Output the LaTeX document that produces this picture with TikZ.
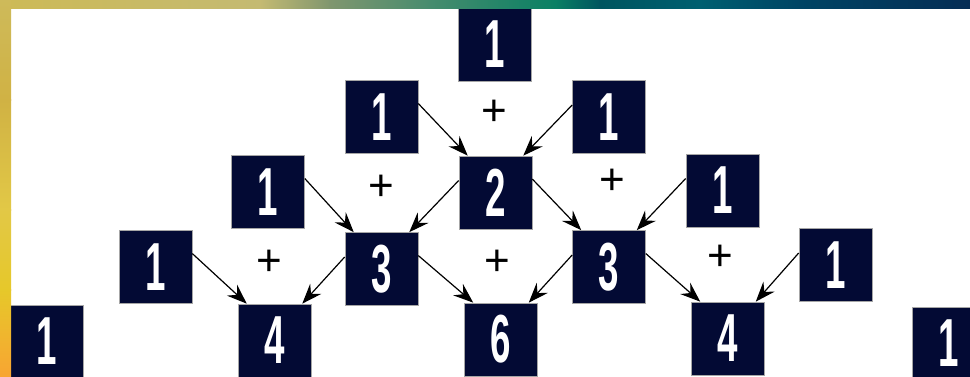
\documentclass[tikz,border=0pt]{standalone}
\usepackage{fontspec}
\setmainfont{Liberation Sans}
\usepackage{graphicx}
\usetikzlibrary{arrows.meta}
\definecolor{navy}{RGB}{3,10,52}
\definecolor{bandA}{RGB}{205,186,86}
\definecolor{bandB}{RGB}{196,186,114}
\definecolor{bandC}{RGB}{128,150,110}
\definecolor{bandD}{RGB}{70,140,110}
\definecolor{bandE}{RGB}{10,128,100}
\definecolor{bandF}{RGB}{0,85,95}
\definecolor{bandG}{RGB}{0,95,112}
\definecolor{bandH}{RGB}{0,68,100}
\definecolor{bandI}{RGB}{5,45,85}
\definecolor{sideA}{RGB}{206,186,90}
\definecolor{sideB}{RGB}{208,178,68}
\definecolor{sideC}{RGB}{226,200,70}
\definecolor{sideD}{RGB}{230,200,42}
\definecolor{sideE}{RGB}{248,165,50}
\newcommand{\digit}[1]{\scalebox{0.54}[1]{\bfseries #1}}

\begin{document}
\begin{tikzpicture}[x=1pt,y=-1pt,>={Stealth[length=20pt,width=15pt,inset=7pt]},
  cell/.style={draw=gray!70,line width=0.7pt,fill=navy,text=white,minimum size=73pt,
    inner sep=0pt,font=\fontsize{68}{68}\selectfont},
  plus/.style={inner sep=0pt,font=\fontsize{44}{44}\selectfont},
  link/.style={->,line width=1.2pt,black}]
  \useasboundingbox (0,0) rectangle (970,376);
  \fill[white] (0,0) rectangle (970,376);
  % row 1
  \node[cell] (a1) at (495,44.5) {\digit{1}};
  % row 2
  \node[cell] (b1) at (381.5,117) {\digit{1}};
  \node[cell] (b2) at (609,117) {\digit{1}};
  % row 3
  \node[cell] (c1) at (268,192) {\digit{1}};
  \node[cell] (c2) at (495.5,192.5) {\digit{2}};
  \node[cell] (c3) at (722.5,190.5) {\digit{1}};
  % row 4
  \node[cell] (d1) at (155.5,267) {\digit{1}};
  \node[cell] (d2) at (381.5,269) {\digit{3}};
  \node[cell] (d3) at (609,267) {\digit{3}};
  \node[cell] (d4) at (835.5,265) {\digit{1}};
  % row 5
  \node[cell] (e1) at (47,341.5) {\digit{1}};
  \node[cell] (e2) at (274.5,340.5) {\digit{4}};
  \node[cell] (e3) at (501,339.5) {\digit{6}};
  \node[cell] (e4) at (728,338.5) {\digit{4}};
  \node[cell] (e5) at (948.5,343.5) {\digit{1}};
  % plus signs
  \node[plus] (p1) at (494,113) {+};
  \node[plus] (p2) at (381,188) {+};
  \node[plus] (p3) at (612,182) {+};
  \node[plus] (p4) at (269,263) {+};
  \node[plus] (p5) at (497,263) {+};
  \node[plus] (p6) at (720,258) {+};
  % arrows
  \foreach \p/\c in {b1/c2,c1/d2,c2/d3,d1/e2,d2/e3,d3/e4}
    \draw[link] (\p.20) -- (\c.127);
  \foreach \p/\c in {b2/c2,c2/d2,c3/d3,d2/e2,d3/e3,d4/e4}
    \draw[link] (\p.162) -- (\c.53);
  % frame bands
  \foreach \xa/\xb/\ca/\cb in {0/260/bandA/bandB,260/330/bandB/bandC,330/430/bandC/bandD,
      430/555/bandD/bandE,555/600/bandE/bandF,600/700/bandF/bandG,700/800/bandG/bandH,
      800/970/bandH/bandI}
    \shade[left color=\ca,right color=\cb] (\xa-0.5,0) rectangle (\xb+0.5,8);
  \foreach \ya/\yb/\ca/\cb in {0/100/sideA/sideB,100/210/sideB/sideC,210/290/sideC/sideD,
      290/376/sideD/sideE}
    \shade[top color=\ca,bottom color=\cb] (0,\ya-0.5) rectangle (11,\yb+0.5);
\end{tikzpicture}
\end{document}
